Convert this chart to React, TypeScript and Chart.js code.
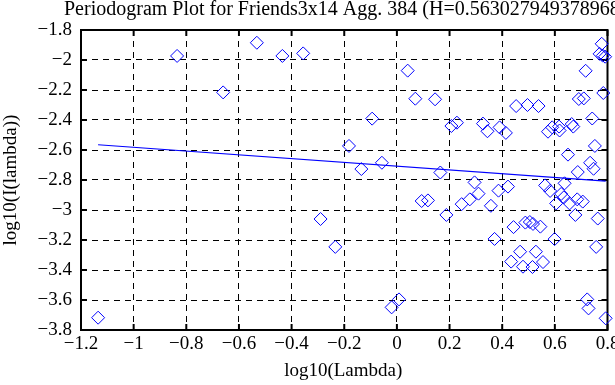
import { useEffect, useRef } from 'react';
import { Chart, registerables } from 'chart.js';

Chart.register(...registerables);

const TITLE = 'Periodogram Plot for Friends3x14 Agg. 384 (H=0.5630279493789685)';
const X_LABEL = 'log10(Lambda)';
const Y_LABEL = 'log10(I(lambda))';
const HURST = 0.563027949378968;
const FIT_INTERCEPT = -2.708;

const xTicks = [-1.2, -1, -0.8, -0.6, -0.4, -0.2, 0, 0.2, 0.4, 0.6, 0.8];
const yTicks = [-3.8, -3.6, -3.4, -3.2, -3, -2.8, -2.6, -2.4, -2.2, -2, -1.8];

const logLambda = [
  -1.135, -0.835, -0.66, -0.532, -0.435, -0.356, -0.29, -0.234, -0.182, -0.135,
  -0.094, -0.057, -0.02, 0.008, 0.041, 0.07, 0.094, 0.118, 0.145, 0.165,
  0.188, 0.207, 0.228, 0.246, 0.277, 0.295, 0.31, 0.327, 0.344, 0.357,
  0.371, 0.386, 0.39, 0.414, 0.422, 0.434, 0.443, 0.453, 0.468, 0.479,
  0.488, 0.496, 0.505, 0.515, 0.517, 0.528, 0.538, 0.545, 0.555, 0.563,
  0.574, 0.582, 0.59, 0.599, 0.605, 0.616, 0.618, 0.624, 0.634, 0.637,
  0.65, 0.656, 0.664, 0.67, 0.678, 0.685, 0.687, 0.691, 0.706, 0.71,
  0.717, 0.723, 0.728, 0.734, 0.742, 0.747, 0.752, 0.757, 0.763, 0.77,
  0.778, 0.782, 0.784, 0.791, 0.793,
];

const logI = [
  -3.718, -1.973, -2.216, -1.885, -1.973, -1.956, -3.06, -3.246, -2.573, -2.727,
  -2.391, -2.685, -3.649, -3.596, -2.071, -2.258, -2.94, -2.936, -2.262, -2.75,
  -3.033, -2.44, -2.418, -2.961, -2.929, -2.816, -2.891, -2.424, -2.475, -2.972,
  -3.193, -2.871, -2.449, -2.486, -2.844, -3.344, -3.114, -2.307, -3.278, -3.378,
  -3.084, -2.3, -3.08, -3.38, -3.093, -3.278, -2.307, -3.111, -3.347, -2.836,
  -2.478, -2.873, -2.449, -3.194, -2.956, -2.444, -2.47, -2.893, -2.916, -2.822,
  -2.631, -2.956, -2.427, -2.444, -3.033, -2.929, -2.747, -2.26, -2.944, -2.256,
  -2.072, -3.596, -3.656, -2.685, -2.39, -2.725, -2.573, -3.246, -3.057, -1.959,
  -1.892, -1.971, -2.22, -1.978, -3.722,
];

const FONT = '"Liberation Serif", "Times New Roman", serif';
const BLUE = '#0000ff';

const fmt = (v: number) => {
  const r = Math.round(v * 10) / 10;
  if (r === 0) return '0';
  return (r < 0 ? '\u2212' : '') + String(Math.abs(r));
};

const framePlugin = {
  id: 'frame',
  beforeDatasetsDraw(chart: any) {
    const { ctx, chartArea: a, scales } = chart;
    ctx.save();
    ctx.strokeStyle = '#000';
    ctx.lineWidth = 2;
    ctx.strokeRect(a.left, a.top, a.right - a.left, a.bottom - a.top);
    const tl = 6;
    ctx.beginPath();
    for (const v of xTicks) {
      const px = scales.x.getPixelForValue(v);
      ctx.moveTo(px, a.bottom);
      ctx.lineTo(px, a.bottom - tl);
      ctx.moveTo(px, a.top);
      ctx.lineTo(px, a.top + tl);
    }
    for (const v of yTicks) {
      const py = scales.y.getPixelForValue(v);
      ctx.moveTo(a.left, py);
      ctx.lineTo(a.left + tl, py);
      ctx.moveTo(a.right, py);
      ctx.lineTo(a.right - tl, py);
    }
    ctx.stroke();
    ctx.restore();
  },
  afterDraw(chart: any) {
    const { ctx, chartArea: a } = chart;
    ctx.save();
    ctx.fillStyle = '#000';
    ctx.textBaseline = 'alphabetic';
    ctx.textAlign = 'left';
    ctx.font = '20px ' + FONT;
    ctx.fillText(TITLE, 64, 15);
    ctx.font = '19px ' + FONT;
    ctx.textAlign = 'center';
    ctx.fillText(X_LABEL, (a.left + a.right) / 2 - 1, 376);
    ctx.translate(16, (a.top + a.bottom) / 2);
    ctx.rotate(-Math.PI / 2);
    ctx.fillText(Y_LABEL, 0, 0);
    ctx.restore();
  },
};

export default function App() {
  const ref = useRef<HTMLCanvasElement | null>(null);

  useEffect(() => {
    document.body.style.margin = '0';
    const canvas = ref.current;
    if (!canvas) return;
    const points = logLambda.map((x, i) => ({ x, y: logI[i] }));
    const slope = 1 - 2 * HURST;
    const xMin = Math.min(...logLambda);
    const xMax = Math.max(...logLambda);
    const fit = [
      { x: xMin, y: FIT_INTERCEPT + slope * xMin },
      { x: xMax, y: FIT_INTERCEPT + slope * xMax },
    ];
    const chart = new Chart(canvas, {
      type: 'scatter',
      data: {
        datasets: [
          {
            data: points,
            pointStyle: 'rectRot',
            pointRadius: 6.5,
            pointHoverRadius: 6.5,
            borderColor: BLUE,
            backgroundColor: 'rgba(0,0,0,0)',
            pointBorderWidth: 1,
            borderWidth: 1,
            clip: false as any,
          },
          {
            type: 'line',
            data: fit,
            borderColor: BLUE,
            borderWidth: 1.2,
            pointRadius: 0,
            fill: false,
            showLine: true,
          } as any,
        ],
      },
      options: {
        animation: false,
        responsive: false,
        events: [],
        layout: { padding: { top: 30, right: 7, left: 0, bottom: 0 } },
        plugins: {
          legend: { display: false },
          tooltip: { enabled: false },
          title: { display: false },
        },
        scales: {
          x: {
            type: 'linear',
            min: -1.2,
            max: 0.8,
            afterBuildTicks: (s: any) => {
              s.ticks = xTicks.map((value) => ({ value }));
            },
            afterFit: (s: any) => {
              s.height = 55;
              s.paddingLeft = 0;
              s.paddingRight = 0;
            },
            grid: { color: '#000', lineWidth: 1, drawTicks: false },
            border: { display: false, dash: [6, 5] },
            ticks: {
              autoSkip: false,
              maxRotation: 0,
              padding: 3,
              color: '#000',
              font: { family: FONT, size: 19 },
              callback: (v: any) => fmt(Number(v)),
            },
          },
          y: {
            type: 'linear',
            min: -3.8,
            max: -1.8,
            afterBuildTicks: (s: any) => {
              s.ticks = yTicks.map((value) => ({ value }));
            },
            afterFit: (s: any) => {
              s.width = 81;
              s.paddingTop = 0;
              s.paddingBottom = 0;
            },
            grid: { color: '#000', lineWidth: 1, drawTicks: false },
            border: { display: false, dash: [6, 5] },
            ticks: {
              autoSkip: false,
              padding: 9,
              color: '#000',
              font: { family: FONT, size: 19 },
              callback: (v: any) => fmt(Number(v)),
            },
          },
        },
      },
      plugins: [framePlugin],
    });
    return () => chart.destroy();
  }, []);

  return (
    <div style={{ width: 615, height: 385 }}>
      <canvas ref={ref} width={615} height={385} style={{ display: 'block', width: 615, height: 385 }} />
    </div>
  );
}
